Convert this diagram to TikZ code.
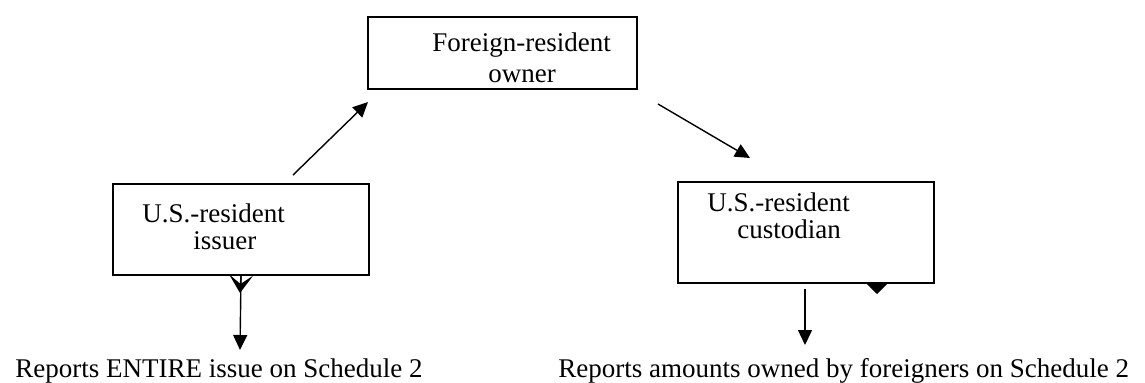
\documentclass[tikz,border=0pt]{standalone}
\usepackage{fontspec}
\setmainfont{Liberation Serif}
\usetikzlibrary{arrows.meta}
\begin{document}
\begin{tikzpicture}[x=0.5pt,y=-0.5pt,
  txt/.style={anchor=base west,inner sep=0pt,font=\fontsize{13.5pt}{16pt}\selectfont},
  boxnode/.style={draw=black,line width=1pt,inner sep=0pt,anchor=north west},
  conn/.style={line width=0.7pt,-{Triangle[length=7.5pt,width=7pt]}},
  smallhead/.style={line width=0.7pt,-{Stealth[length=9pt,width=12pt,inset=4.5pt]}},
  stubhead/.style={line width=0.7pt,-{Triangle[length=5pt,width=10pt]}}]
\useasboundingbox (0,0) rectangle (1145,382);
% boxes
\node[boxnode,minimum width=134.5pt,minimum height=36pt] (own) at (367,16) {};
\node[boxnode,minimum width=128pt,minimum height=45.5pt] (iss) at (112,183) {};
\node[boxnode,minimum width=128pt,minimum height=50.5pt] (cus) at (677,181) {};
% texts
\node[txt] (t1) at (432,51) {Foreign-resident};
\node[txt] (t2) at (488,82) {owner};
\node[txt] (t3) at (142,222) {U.S.-resident};
\node[txt] (t4) at (193,249) {issuer};
\node[txt] (t5) at (707,211) {U.S.-resident};
\node[txt] (t6) at (737,238) {custodian};
\node[txt] (r1) at (15,377) {Reports ENTIRE issue on Schedule 2};
\node[txt] (r2) at (558,377) {Reports amounts owned by foreigners on Schedule 2};
% coordinates
\coordinate (a1s) at (293,175);
\coordinate (a1e) at (368,102);
\coordinate (a2s) at (658,104);
\coordinate (a2e) at (750,158);
\coordinate (a3m) at (240,293);
\coordinate (a3e) at (240,350);
\coordinate (a4h) at (877,294);
\coordinate (a4s) at (805,289);
\coordinate (a4e) at (805,345);
% connectors
\draw[conn] (a1s) -- (a1e);
\draw[conn] (a2s) -- (a2e);
\draw[conn] (iss.south) -- (a3e);
\draw[smallhead] (iss.south) -- (a3m);
\draw[stubhead] (cus.south -| a4h) -- (a4h);
\draw[conn] (a4s) -- (a4e);
\end{tikzpicture}
\end{document}
